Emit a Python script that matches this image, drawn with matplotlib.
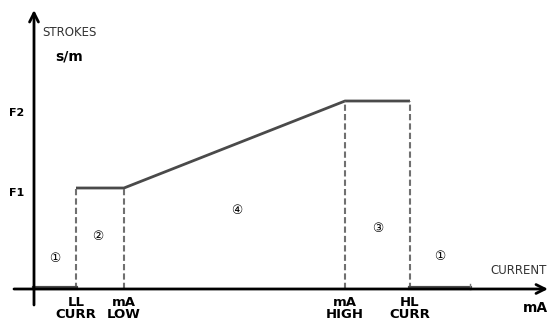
import matplotlib
matplotlib.use("Agg")
import matplotlib.pyplot as plt

# Data (arbitrary units: current positions and stroke levels)
F1 = 101
F2 = 188
ll_curr, ma_low, ma_high, hl_curr, range_end = 42, 90, 311, 376, 436
x_breaks = [ll_curr, ma_low, ma_high, hl_curr]
x_labels = ["LL\nCURR", "mA\nLOW", "mA\nHIGH", "HL\nCURR"]
levels = [F1, F1, F2, F2]
profile_x = [ll_curr, ma_low, ma_high, hl_curr]
profile_y = [F1, F1, F2, F2]
zone_labels = ["①", "②", "④", "③", "①"]
zone_x = [21, 64, 203, 344, 406]
zone_y = [31, 52, 79, 61, 32]

fig = plt.figure(figsize=(5.52, 3.24), dpi=100)
ax = fig.add_axes([0, 0, 1, 1])
ax.set_xlim(-34, 518)
ax.set_ylim(-35, 289)
ax.axis("off")

lc = "#4a4a4a"
# upper profile
ax.plot(profile_x, profile_y, color=lc, lw=2.0, solid_capstyle="butt")
# vertical dashed lines
for xb, lv in zip(x_breaks, levels):
    ax.plot([xb, xb], [0, lv], color="#707070", lw=1.5, ls=(0, (3, 1.5)))
# thick segments on baseline (zone 1)
ax.plot([0, ll_curr], [1.5, 1.5], color=lc, lw=3)
ax.plot([hl_curr, range_end], [1.5, 1.5], color=lc, lw=3)
ax.plot([range_end, range_end], [0, 5], color="#777777", lw=1)

# axes with arrows
ax.annotate("", xy=(0, 279), xytext=(0, -16),
            arrowprops=dict(arrowstyle="->", lw=2, color="black",
                            mutation_scale=16, shrinkA=0, shrinkB=0))
ax.annotate("", xy=(514, 0), xytext=(-20, 0),
            arrowprops=dict(arrowstyle="->", lw=2, color="black",
                            mutation_scale=16, shrinkA=0, shrinkB=0))

# texts
ax.text(8, 257, "STROKES", fontsize=8.5, color="#333333", va="center", ha="left")
ax.text(21, 232, "s/m", fontsize=10, fontweight="bold", va="center", ha="left")
ax.text(456, 19, "CURRENT", fontsize=8.5, color="#333333", va="center", ha="left")
ax.text(489, -19, "mA", fontsize=10, fontweight="bold", va="center", ha="left")
ax.text(-25, F1 - 5, "F1", fontsize=8, fontweight="bold", va="center", ha="left")
ax.text(-25, F2 - 12, "F2", fontsize=8, fontweight="bold", va="center", ha="left")

for xb, lab in zip(x_breaks, x_labels):
    ax.text(xb, -7, lab, fontsize=9.5, fontweight="bold", ha="center", va="top",
            linespacing=0.95)

for lab, zx, zy in zip(zone_labels, zone_x, zone_y):
    ax.text(zx, zy, lab, fontsize=9, ha="center", va="center",
            family=["DejaVu Sans"])

fig.savefig("out.png", dpi=100)
